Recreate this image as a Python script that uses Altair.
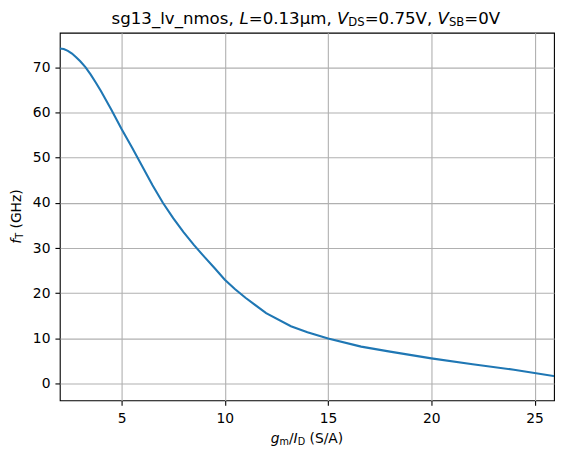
import altair as alt
import pandas as pd

# ---- data ----
gm_id = [2.0, 2.2, 2.4, 2.6, 2.8, 3.0, 3.25, 3.5, 3.75, 4.0, 4.5, 5.0, 5.5, 6.0,
         6.5, 7.0, 7.5, 8.0, 8.5, 9.0, 9.5, 10.0, 10.5, 11.0, 12.0, 13.2, 14.0,
         15.0, 16.6, 18.0, 20.0, 22.0, 24.0, 26.0]
ft_ghz = [74.1, 74.0, 73.6, 73.0, 72.2, 71.3, 70.0, 68.4, 66.6, 64.7, 60.6, 56.3,
          52.3, 48.1, 43.9, 40.0, 36.6, 33.5, 30.7, 28.1, 25.6, 23.0, 20.9, 19.0,
          15.6, 12.7, 11.4, 10.0, 8.2, 7.1, 5.6, 4.3, 3.1, 1.65]
x_ticks = [5, 10, 15, 20, 25]
y_ticks = [0, 10, 20, 30, 40, 50, 60, 70]

df = pd.DataFrame({"gm_id": gm_id, "ft": ft_ghz})
one = pd.DataFrame({"a": [0]})

FONT = "DejaVu Sans"

line = alt.Chart(df).mark_line(color="#1f77b4", strokeWidth=2.1, clip=True).encode(
    x=alt.X("gm_id:Q",
            scale=alt.Scale(domain=[2.01, 25.94], nice=False, zero=False),
            axis=alt.Axis(values=x_ticks, title=None)),
    y=alt.Y("ft:Q",
            scale=alt.Scale(domain=[-3.68, 77.6], nice=False, zero=False),
            axis=alt.Axis(values=y_ticks, title=None)),
)


def piece(text, x, y, size, italic=False, angle=None):
    kw = dict(align="left", baseline="alphabetic", font=FONT, fontSize=size,
              color="black", text=text)
    if italic:
        kw["fontStyle"] = "italic"
    if angle is not None:
        kw["angle"] = angle
    return alt.Chart(one).mark_text(**kw).encode(x=alt.value(x), y=alt.value(y))


T = 16.67          # title size
TS = T * 0.7       # title subscript size
A = 13.89          # axis title size
AS = A * 0.7       # axis subscript size

title_y = -9
title_parts = [
    piece("sg13_lv_nmos,", 52.0, title_y, T),
    piece("L", 180.4, title_y, T, italic=True),
    piece("=0.13µm,", 189.7, title_y, T),
    piece("V", 278.2, title_y, T, italic=True),
    piece("DS", 289.6, title_y + 2.5, TS),
    piece("=0.75V,", 306.0, title_y, T),
    piece("V", 379.1, title_y, T, italic=True),
    piece("SB", 390.5, title_y + 2.5, TS),
    piece("=0V", 405.9, title_y, T),
]

xt_y = 412
xtitle_parts = [
    piece("g", 211.6, xt_y, A, italic=True),
    piece("m", 220.4, xt_y + 2, AS),
    piece("/", 229.9, xt_y, A),
    piece("I", 234.6, xt_y, A, italic=True),
    piece("D", 238.7, xt_y + 2, AS),
    piece("(S/A)", 250.6, xt_y, A),
]

yt_x = -39
ytitle_parts = [
    piece("f", yt_x, 211.7, A, italic=True, angle=270),
    piece("T", yt_x + 2, 206.8, AS, angle=270),
    piece("(GHz)", yt_x, 196.5, A, angle=270),
]

chart = alt.layer(line, *title_parts, *xtitle_parts, *ytitle_parts).properties(
    width=496,
    height=369,
    padding={"left": 52, "top": 24, "right": 4, "bottom": 50},
    autosize=alt.AutoSizeParams(type="none"),
    background="white",
).configure_view(
    stroke="black", strokeWidth=1.1
).configure_axis(
    domain=False,
    grid=True,
    gridColor="#b0b0b0",
    gridWidth=1.1,
    ticks=True,
    tickColor="black",
    tickWidth=1.1,
    tickSize=4.9,
    labelFont=FONT,
    labelFontSize=13.89,
    labelColor="black",
).configure_axisX(
    labelPadding=6,
).configure_axisY(
    labelPadding=5,
)

chart.save("out.html", embed_options={"renderer": "svg", "actions": False})
